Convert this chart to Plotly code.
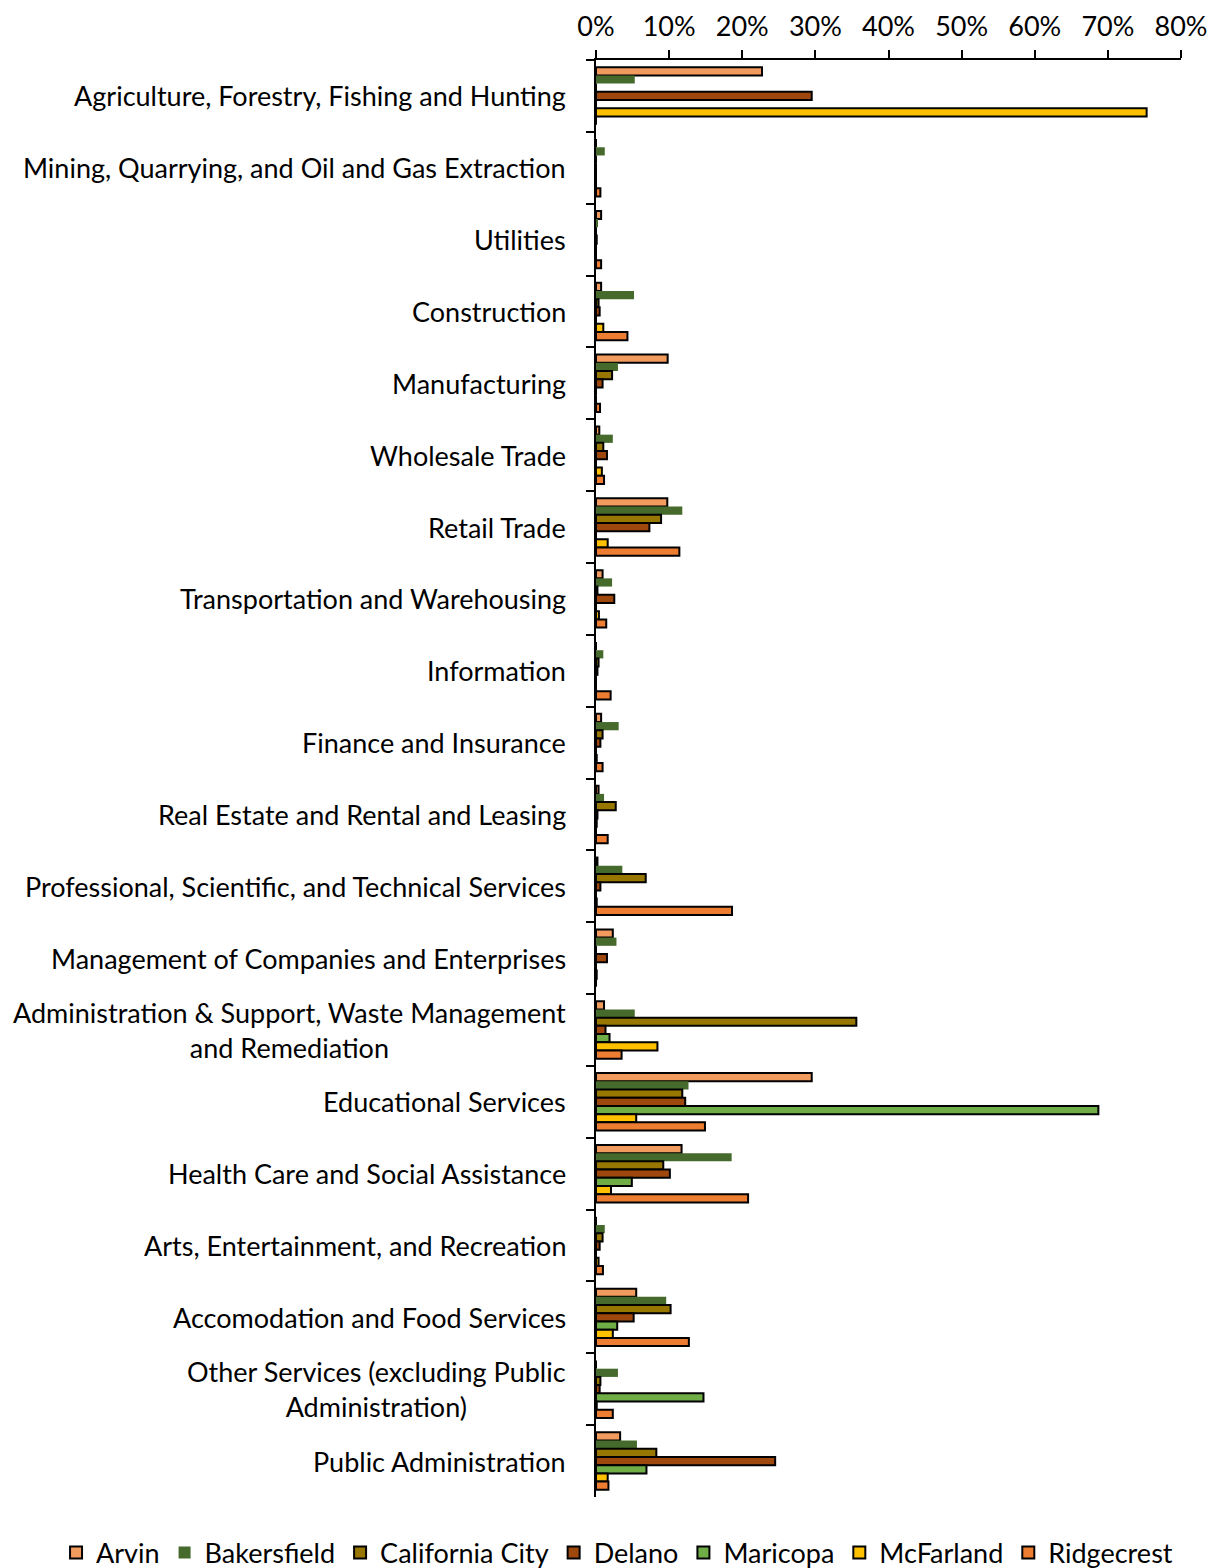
import plotly.graph_objects as go

categories = [
    "Agriculture, Forestry, Fishing and Hunting",
    "Mining, Quarrying, and Oil and Gas Extraction",
    "Utilities",
    "Construction",
    "Manufacturing",
    "Wholesale Trade",
    "Retail Trade",
    "Transportation and Warehousing",
    "Information",
    "Finance and Insurance",
    "Real Estate and Rental and Leasing",
    "Professional, Scientific, and Technical Services",
    "Management of Companies and Enterprises",
    "Administration & Support, Waste Management<br>and Remediation",
    "Educational Services",
    "Health Care and Social Assistance",
    "Arts, Entertainment, and Recreation",
    "Accomodation and Food Services",
    "Other Services (excluding Public<br>Administration)",
    "Public Administration",
]

arvin = [22.7, 0, 0.7, 0.7, 9.8, 0.45, 9.75, 0.9, 0, 0.7, 0.35, 0.2, 2.3, 1.1, 29.5, 11.7, 0, 5.5, 0, 3.3]
bakersfield = [5.3, 1.2, 0.2, 5.2, 3.0, 2.3, 11.8, 2.2, 1.0, 3.1, 1.1, 3.6, 2.8, 5.3, 12.65, 18.55, 1.2, 9.6, 3.0, 5.6]
california_city = [0, 0, 0, 0.35, 2.2, 1.0, 8.9, 0.2, 0.35, 0.9, 2.7, 6.8, 0, 35.6, 11.8, 9.2, 0.9, 10.2, 0.6, 8.25]
delano = [29.5, 0, 0.1, 0.5, 0.9, 1.5, 7.3, 2.5, 0.2, 0.6, 0.2, 0.6, 1.5, 1.3, 12.2, 10.1, 0.5, 5.15, 0.5, 24.5]
maricopa = [0, 0, 0, 0, 0, 0, 0, 0, 0, 0, 0.1, 0, 0, 1.85, 68.7, 4.9, 0, 2.9, 14.7, 6.9]
mcfarland = [75.3, 0, 0, 1.0, 0, 0.8, 1.6, 0.4, 0, 0.1, 0, 0.1, 0.1, 8.4, 5.5, 2.05, 0.35, 2.3, 0.1, 1.6]
ridgecrest = [0, 0.6, 0.7, 4.3, 0.55, 1.1, 11.4, 1.4, 2.0, 0.9, 1.6, 18.6, 0, 3.5, 14.9, 20.8, 0.95, 12.7, 2.3, 1.7]

series_names = ["Arvin", "Bakersfield", "California City", "Delano", "Maricopa", "McFarland", "Ridgecrest"]
series_values = [arvin, bakersfield, california_city, delano, maricopa, mcfarland, ridgecrest]
colors = ["#F29B5E", "#456A2B", "#987700", "#9E480E", "#70AD47", "#FFC000", "#ED7D31"]
outline = [2, 0, 2, 2, 2, 2, 2]

FONT = "Lato"
FS = 27

fig = go.Figure()
for name, vals, col, lw in zip(series_names, series_values, colors, outline):
    fig.add_trace(go.Bar(
        y=categories, x=vals, name=name, orientation="h",
        marker=dict(color=col, line=dict(color="black", width=lw)),
    ))

for cat in categories:
    fig.add_annotation(
        x=0, xref="paper", y=cat, yref="y", text=cat,
        xanchor="right", yanchor="middle", align="center",
        xshift=-28, showarrow=False,
        font=dict(family=FONT, size=FS, color="black"),
    )

fig.update_layout(
    width=1207, height=1560,
    margin=dict(l=588, r=34, t=52, b=71, autoexpand=False),
    plot_bgcolor="white", paper_bgcolor="white",
    barmode="group", bargap=0.2, bargroupgap=0,
    font=dict(family=FONT, size=FS, color="black"),
    legend=dict(
        orientation="h", xref="paper", yref="paper",
        x=-0.923, xanchor="left", y=-0.039, yanchor="middle",
        font=dict(family=FONT, size=27), itemwidth=30,
        traceorder="normal",
    ),
)
fig.update_xaxes(
    side="top", range=[0, 80], dtick=10, ticksuffix="%",
    showgrid=False, zeroline=False,
    showline=True, linecolor="black", linewidth=1.5,
    ticks="outside", ticklen=8, tickwidth=1.5, tickcolor="black",
    tickfont=dict(family=FONT, size=FS), ticklabelstandoff=3,
)
fig.update_yaxes(
    autorange="reversed", showticklabels=False, showgrid=False,
    showline=True, linecolor="black", linewidth=1.5,
    ticks="outside", ticklen=8, tickwidth=1.5, tickcolor="black",
    tickson="boundaries",
)

fig.write_html("out.html")
